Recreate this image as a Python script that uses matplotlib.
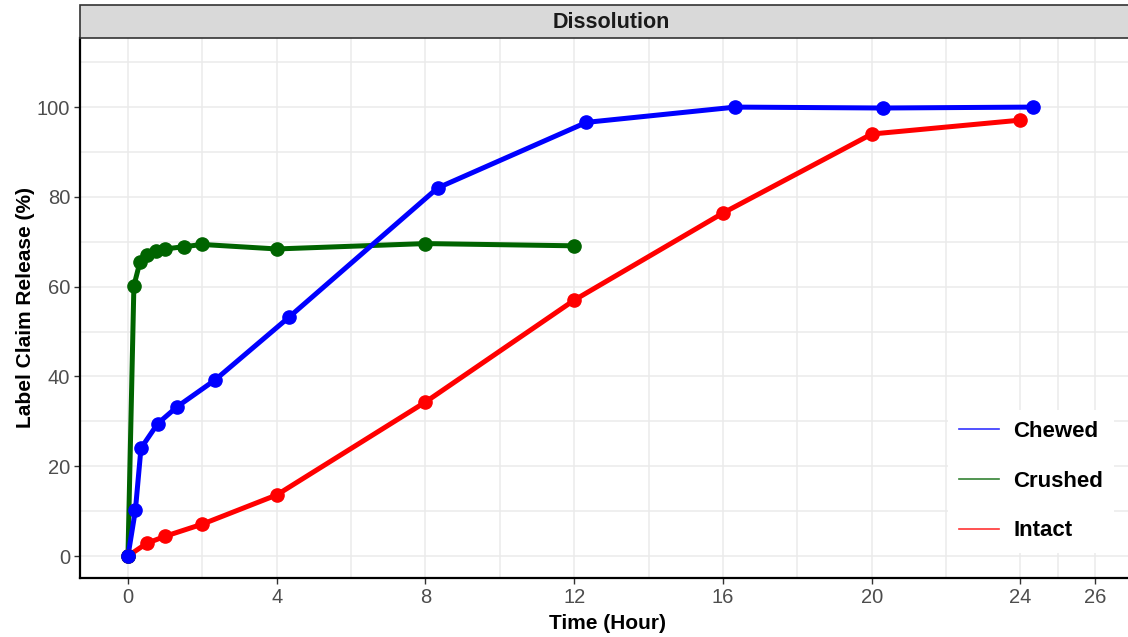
import matplotlib.pyplot as plt
from matplotlib.lines import Line2D
from matplotlib.patches import Rectangle

plt.rcParams['font.family'] = ['Liberation Sans', 'DejaVu Sans']

# dissolution data
chewed_time = [0, 0.2, 0.35, 0.8, 1.33, 2.34, 4.33, 8.33, 12.33, 16.33, 20.3, 24.33]
chewed_release = [0, 10.2, 24.0, 29.5, 33.3, 39.2, 53.2, 82.0, 96.6, 100.0, 99.8, 100.0]

crushed_time = [0, 0.16, 0.32, 0.5, 0.75, 1.0, 1.5, 2.0, 4.0, 8.0, 12.0]
crushed_release = [0, 60.2, 65.4, 67.1, 67.9, 68.4, 68.9, 69.4, 68.4, 69.6, 69.1]

intact_time = [0, 0.5, 1.0, 2.0, 4.0, 8.0, 12.0, 16.0, 20.0, 24.0]
intact_release = [0, 2.8, 4.4, 7.1, 13.6, 34.3, 57.0, 76.4, 94.0, 97.1]

groups = ['Chewed', 'Crushed', 'Intact']
colors = {'Chewed': 'blue', 'Crushed': '#006400', 'Intact': 'red'}
series = {
    'Chewed': (chewed_time, chewed_release),
    'Crushed': (crushed_time, crushed_release),
    'Intact': (intact_time, intact_release),
}
x_ticks = [0, 4, 8, 12, 16, 20, 24, 26]
x_minor = [2, 6, 10, 14, 18, 22, 25]
y_ticks = [0, 20, 40, 60, 80, 100]
y_minor = [10, 30, 50, 70, 90, 110]

fig = plt.figure(figsize=(11.28, 6.37), dpi=100)
ax = fig.add_axes([0.0709, 0.0926, 0.935, 0.8478])

# lines first, then points (chewed on top)
for g in reversed(groups):
    t, r = series[g]
    ax.plot(t, r, color=colors[g], lw=3.6, solid_capstyle='round', zorder=3)
for g in reversed(groups):
    t, r = series[g]
    ax.plot(t, r, 'o', color=colors[g], ms=9.5, zorder=4)

ax.set_xlim(-1.29, 27.07)
ax.set_ylim(-4.9, 115.4)
ax.set_xticks(x_ticks)
ax.set_xticks(x_minor, minor=True)
ax.set_yticks(y_ticks)
ax.set_yticks(y_minor, minor=True)
ax.grid(True, which='both', color='#EBEBEB', lw=1.1, zorder=0)
ax.tick_params(which='minor', length=0)
ax.tick_params(which='major', length=4, width=1, color='#333333',
               labelsize=14.5, labelcolor='#4D4D4D', pad=3)

for s in ['top', 'right']:
    ax.spines[s].set_visible(False)
for s in ['left', 'bottom']:
    ax.spines[s].set_linewidth(1.6)
    ax.spines[s].set_color('black')

ax.set_xlabel('Time (Hour)', fontsize=15, fontweight='bold', labelpad=5)
ax.set_ylabel('Label Claim Release (%)', fontsize=15, fontweight='bold', labelpad=1)

# facet strip
fig.patches.append(Rectangle((0.0709, 0.9404), 0.94, 0.0518, transform=fig.transFigure,
                             facecolor='#D9D9D9', edgecolor='#333333', lw=1.2))
fig.text(0.542, 0.965, 'Dissolution', ha='center', va='center',
         fontsize=15.5, fontweight='bold', color='#1A1A1A')

handles = [Line2D([], [], color=colors[g], lw=1.2, alpha=0.8) for g in groups]
leg = ax.legend(handles, groups, loc='lower left', bbox_to_anchor=(0.8123, 0.0265),
                frameon=True, facecolor='white', edgecolor='none', framealpha=1,
                prop={'size': 16, 'weight': 'bold'}, labelspacing=1.3,
                handlelength=1.8, handletextpad=0.64, borderpad=0.5)
leg.set_zorder(5)

fig.savefig('out.png', dpi=100)
